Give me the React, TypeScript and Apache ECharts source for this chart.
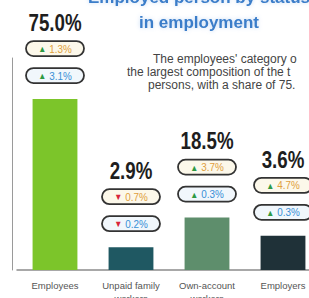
import React, { useEffect, useRef } from "react";
import * as echarts from "echarts";

const categories = ["Employees", "Unpaid family\nworkers", "Own-account\nworkers", "Employers"];
const shares = [75.0, 2.9, 18.5, 3.6];
// drawn bar heights (bars are not to scale of the shares)
const barHeights = [75, 10, 23, 15];
const changeFirst = [1.3, -0.7, 3.7, 4.7];
const changeSecond = [3.1, -0.2, 0.3, 0.3];
const barColors = ["#7cc52a", "#1f5862", "#5e8e6c", "#1f3138"];
const titleLines = ["Employed person by status", "in employment"];
// the note is cut at the right edge of the picture
const noteLines = [
  "The employees' category o",
  "the largest composition of the t",
  "persons, with a share of 75.",
];

const SANS = "'Liberation Sans', Arial, sans-serif";

function badge(cx: number, y: number, val: number, fill: string, numColor: string) {
  const up = val >= 0;
  return {
    type: "group",
    children: [
      {
        type: "rect",
        shape: { x: cx - 29, y, width: 58, height: 15, r: 7.5 },
        style: { fill, stroke: "#333333", lineWidth: 1.8 },
      },
      {
        type: "text",
        x: cx,
        y: y + 7.8,
        scaleX: 0.9,
        style: {
          text: `{a|${up ? "▲" : "▼"}} {b|${Math.abs(val).toFixed(1)}%}`,
          rich: {
            a: { fill: up ? "#2f9a44" : "#d8253b", fontSize: 9, fontFamily: SANS },
            b: { fill: numColor, fontSize: 11, fontFamily: SANS },
          },
          align: "center",
          verticalAlign: "middle",
        },
      },
    ],
  };
}

export default function App() {
  const ref = useRef<HTMLDivElement>(null);
  useEffect(() => {
    if (!ref.current) return;
    const chart = echarts.init(ref.current, null, { renderer: "svg" });
    const titleStyle = {
      fill: "#3a7dc9",
      fontSize: 17,
      fontWeight: "bold",
      fontFamily: SANS,
      align: "center",
      verticalAlign: "middle",
      textShadowColor: "rgba(120,170,230,0.45)",
      textShadowBlur: 4,
    };
    const option: any = {
      animation: false,
      backgroundColor: "#ffffff",
      grid: { left: 17, top: 58, width: 304, bottom: 28, outerBoundsMode: "none", containLabel: false },
      xAxis: {
        type: "category",
        data: categories,
        axisTick: { show: false },
        axisLine: { show: true, lineStyle: { color: "#8c8c8c", width: 1.5 } },
        axisLabel: {
          interval: 0,
          margin: 9,
          fontSize: 9.5,
          lineHeight: 13,
          color: "#555",
          fontFamily: SANS,
        },
      },
      yAxis: {
        type: "value",
        min: 0,
        max: 93,
        offset: 5,
        axisLabel: { show: false },
        axisTick: { show: false },
        splitLine: { show: false },
        axisLine: { show: true, lineStyle: { color: "#9a9a9a", width: 1 } },
      },
      graphic: [
        { type: "text", x: 199, y: -3, style: { ...titleStyle, text: titleLines[0] } },
        { type: "text", x: 199, y: 22, style: { ...titleStyle, text: titleLines[1] } },
        ...noteLines.map((t, i) => ({
          type: "text",
          x: [153, 127, 148][i],
          y: [59, 72, 85][i],
          style: {
            text: t,
            fill: "#444",
            fontSize: 12,
            fontFamily: SANS,
            align: "left",
            verticalAlign: "middle",
          },
        })),
      ],
      series: [
        {
          type: "custom",
          data: barHeights.map((h, i) => [i, h]),
          encode: { x: 0, y: 1 },
          renderItem: (params: any, api: any) => {
            const i = params.dataIndex;
            const idx = api.value(0);
            const h = api.value(1);
            const top = api.coord([idx, h]);
            const base = api.coord([idx, 0]);
            const band = api.size([1, 0])[0];
            const w = band * 0.59;
            const cx = top[0];
            const T = top[1];
            return {
              type: "group",
              children: [
                {
                  type: "rect",
                  shape: { x: cx - w / 2, y: T, width: w, height: base[1] - T },
                  style: { fill: barColors[i] },
                },
                {
                  type: "text",
                  x: cx,
                  y: T - 64,
                  scaleX: 0.78,
                  style: {
                    text: `${shares[i].toFixed(1)}%`,
                    fill: "#1e1e1e",
                    fontSize: 24,
                    fontWeight: "bold",
                    fontFamily: SANS,
                    align: "center",
                    verticalAlign: "bottom",
                  },
                },
                badge(cx, T - 58, changeFirst[i], "#fcf8ea", "#e0a040"),
                badge(cx, T - 31, changeSecond[i], "#f1f7fc", "#3a8fd6"),
              ],
            };
          },
        },
      ],
    };
    chart.setOption(option);
    return () => chart.dispose();
  }, []);
  return (
    <div
      ref={ref}
      style={{ position: "absolute", left: 0, top: 0, width: 309, height: 298 }}
    />
  );
}
